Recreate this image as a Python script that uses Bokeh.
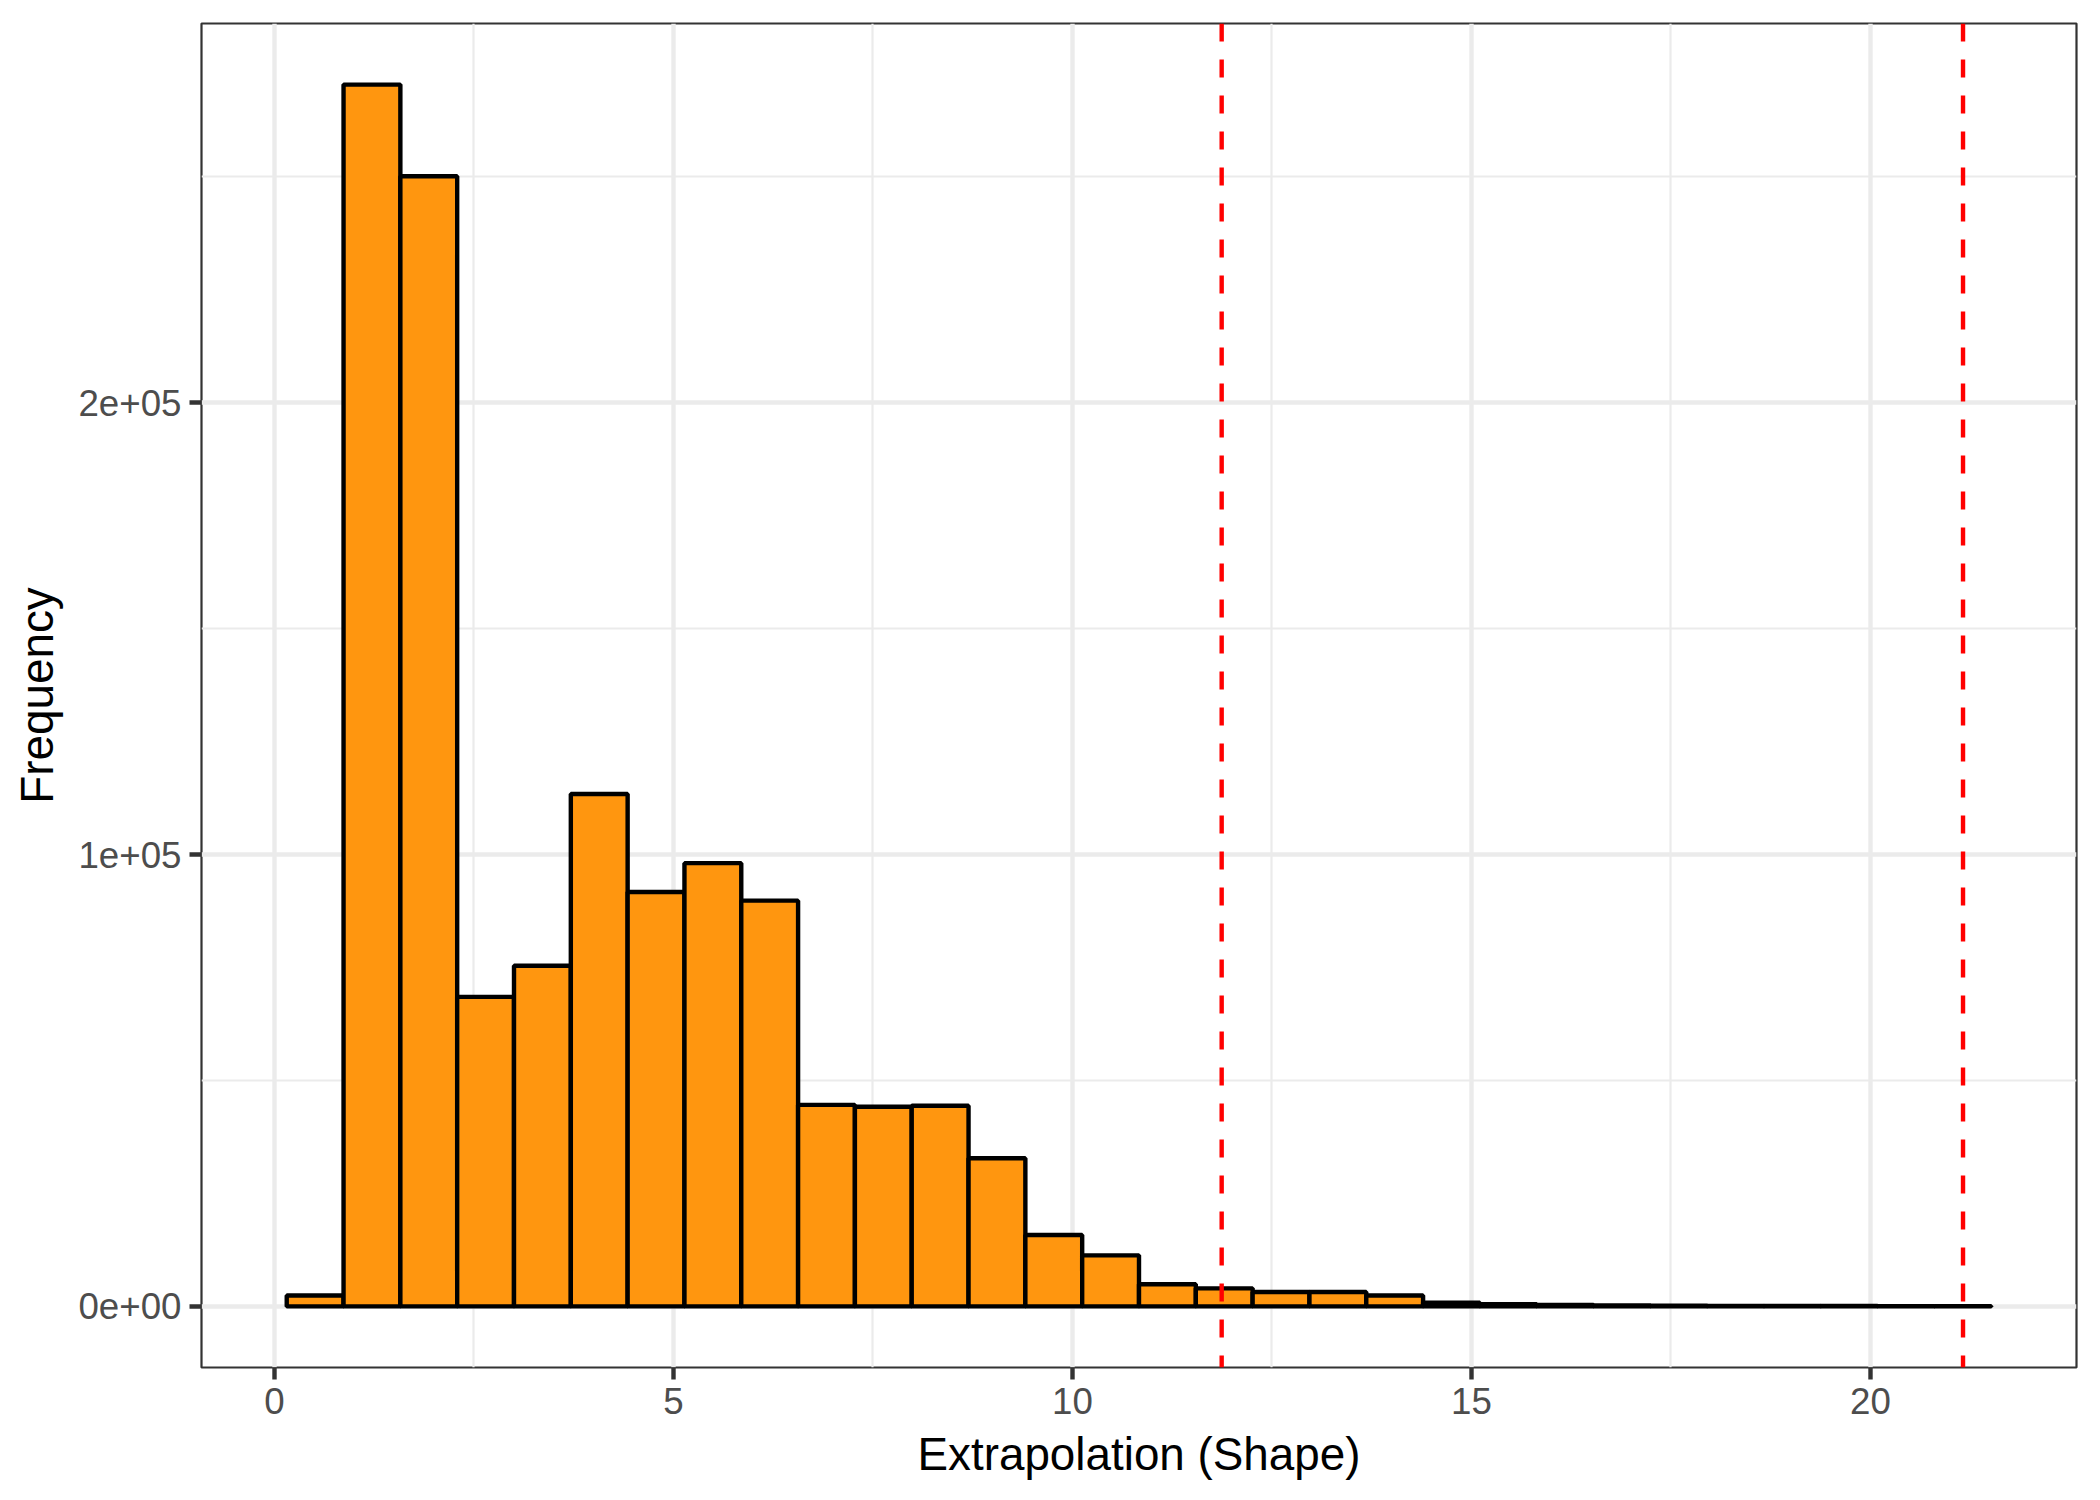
from bokeh.plotting import figure
from bokeh.models import Range1d, FixedTicker, Span, CustomJSTickFormatter, ColumnDataSource
from bokeh.embed import file_html
from bokeh.resources import INLINE

# ---- data ----
bin_start = 0.154
bin_width = 0.712
counts = [2400, 270400, 250100, 68500, 75400, 113400, 91700, 98100, 89800, 44600,
          44200, 44400, 32800, 15800, 11300, 4900, 4000, 3200, 3200, 2400,
          800, 500, 300, 200, 150, 120, 100, 80, 60, 40]
ref_lines = [11.87, 21.16]
x_ticks = [0, 5, 10, 15, 20]
x_minor = [2.5, 7.5, 12.5, 17.5]
y_ticks = [0, 100000, 200000]
y_minor = [50000, 150000, 250000]
x_title = "Extrapolation (Shape)"
y_title = "Frequency"

lefts = [bin_start + i * bin_width for i in range(len(counts))]
rights = [l + bin_width for l in lefts]
src = ColumnDataSource(dict(left=lefts, right=rights, top=counts, bottom=[0] * len(counts)))

# ggplot-like 5% expansion
x0, x1 = lefts[0], rights[-1]
xs = x1 - x0
ymax = max(counts)

FONT = "Liberation Sans"

p = figure(frame_width=1875, frame_height=1344,
           x_range=Range1d(x0 - 0.05 * xs, x1 + 0.05 * xs),
           y_range=Range1d(-0.05 * ymax, 1.05 * ymax),
           output_backend="svg", toolbar_location=None,
           min_border_left=201, min_border_right=15, min_border_top=23, min_border_bottom=125)

p.background_fill_color = "white"
p.border_fill_color = "white"
p.outline_line_color = "#333333"
p.outline_line_width = 2.2

p.quad(left="left", right="right", top="top", bottom="bottom", source=src,
       fill_color="#FF960F", line_color="black", line_width=4.4)

for loc in ref_lines:
    p.add_layout(Span(location=loc, dimension="height", line_color="red",
                      line_dash="18 18", line_width=4.4))

p.xaxis.ticker = FixedTicker(ticks=x_ticks, minor_ticks=x_minor)
p.yaxis.ticker = FixedTicker(ticks=y_ticks, minor_ticks=y_minor)
p.yaxis.formatter = CustomJSTickFormatter(code="""
if (tick == 0) return '0e+00';
const e = Math.floor(Math.log10(Math.abs(tick)) + 1e-9);
const m = tick / Math.pow(10, e);
return m.toFixed(0) + 'e' + (e >= 0 ? '+' : '-') + String(Math.abs(e)).padStart(2, '0');
""")

for g in (p.xgrid, p.ygrid):
    g.grid_line_color = "#EBEBEB"
    g.grid_line_width = 4.4
    g.minor_grid_line_color = "#EBEBEB"
    g.minor_grid_line_width = 2.2
    g.level = "underlay"

for ax in (p.xaxis, p.yaxis):
    ax.axis_line_color = None
    ax.major_tick_line_color = "#333333"
    ax.major_tick_line_width = 4.4
    ax.major_tick_out = 12
    ax.major_tick_in = 0
    ax.minor_tick_line_color = None
    ax.major_label_text_font = FONT
    ax.major_label_text_font_size = "36.7px"
    ax.major_label_text_color = "#4D4D4D"
    ax.major_label_standoff = 8
    ax.axis_label_text_font = FONT
    ax.axis_label_text_font_size = "45.8px"
    ax.axis_label_text_font_style = "normal"
    ax.axis_label_text_color = "black"
    ax.axis_label_standoff = 12

p.xaxis.axis_label = x_title
p.yaxis.axis_label = y_title

open("out.html", "w").write(file_html(p, INLINE))
